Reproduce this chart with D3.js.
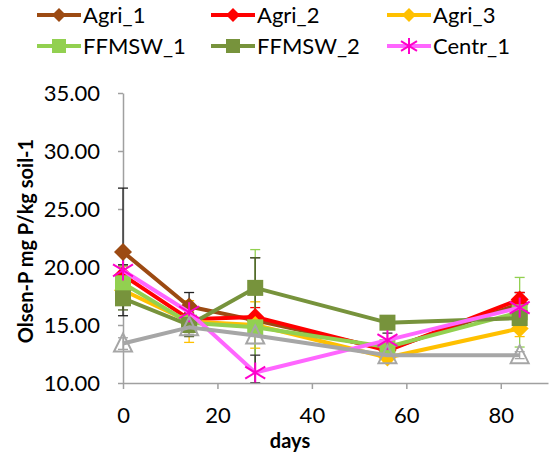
<!DOCTYPE html>
<html>
<head>
<meta charset="utf-8">
<script src="https://cdn.jsdelivr.net/npm/d3@7"></script>
<style>
  body { margin: 0; background: #fff; }
  svg { font-family: Lato, "Open Sans", sans-serif; }
</style>
</head>
<body>
<svg id="chart" width="551" height="464"></svg>
<script>
// sampling days
var days = [0, 14, 28, 56, 84];

// series names + colours
var names = ["Agri_1", "Agri_2", "Agri_3", "FFMSW_1", "FFMSW_2", "Centr_1", "Control"];
var colors = ["#9c4a12", "#ff0000", "#ffc000", "#92d050", "#77933c", "#ff66ff", "#a6a6a6"];
var markers = ["diamond", "diamond", "diamond", "square", "square", "star", "triangle"];

// Olsen-P values
var agri1 = [21.3, 16.6, 15.4, 12.9, 16.8];
var agri2 = [19.3, 15.5, 15.7, 12.8, 17.2];
var agri3 = [18.0, 15.3, 15.0, 12.2, 14.7];
var ffmsw1 = [18.6, 15.2, 14.8, 13.1, 16.1];
var ffmsw2 = [17.3, 15.0, 18.2, 15.2, 15.6];
var centr1 = [19.7, 16.1, 10.9, 13.7, 16.5];
var control = [13.4, 14.8, 14.1, 12.4, 12.4];

// error bar half widths
var err1 = [5.5, 1.2, 5.4, 0.3, 1.0];
var err2 = [0.8, 0.6, 0.8, 0.4, 0.6];
var err3 = [0.6, 1.8, 2.0, 0.4, 0.7];
var errF1 = [1.5, 0.8, 6.7, 0.5, 3.0];
var errF2 = [1.0, 1.0, 2.6, 0.5, 1.0];
var errC = [0.5, 0.5, 1.5, 0.6, 0.5];
var errCtl = [0.5, 0.6, 0.7, 0.3, 0.3];

var series = [agri1, agri2, agri3, ffmsw1, ffmsw2, centr1, control];
var errors = [err1, err2, err3, errF1, errF2, errC, errCtl];
var errColors = ["#222", "#ff0000", "#ffc000", "#92d050", "#4d5e28", "#333", "#a6a6a6"];

var yTicks = [10, 15, 20, 25, 30, 35];
var xTicks = [0, 20, 40, 60, 80];

var svg = d3.select("#chart");

var x = d3.scaleLinear().domain([0, 90]).range([123, 548]);
var y = d3.scaleLinear().domain([10, 35]).range([383, 93]);

// clip error bars to the plot area, like the spreadsheet does
svg.append("clipPath").attr("id", "plotClip")
  .append("rect").attr("x", 100).attr("y", y(35)).attr("width", 451).attr("height", y(10) - y(35));

// axes
svg.append("g")
  .attr("transform", "translate(123,0)")
  .call(d3.axisLeft(y).tickValues(yTicks).tickFormat(d3.format(".2f")).tickSize(5).tickSizeOuter(0).tickPadding(18));
svg.append("g")
  .attr("transform", "translate(0,383)")
  .call(d3.axisBottom(x).tickValues(xTicks).tickSize(6).tickSizeOuter(0).tickPadding(18));

svg.selectAll(".domain, .tick line").attr("stroke", "#a0a0a0").attr("stroke-width", 1.5);
svg.selectAll(".tick text").attr("fill", "#000").style("font-size", "22px").style("font-family", "Lato, sans-serif");

svg.append("text")
  .attr("x", 290).attr("y", 448)
  .attr("text-anchor", "middle")
  .style("font-size", "20px").style("font-weight", "bold")
  .text("days");

svg.append("text")
  .attr("transform", "translate(33,241) rotate(-90)")
  .attr("text-anchor", "middle")
  .style("font-size", "20px").style("font-weight", "bold")
  .text("Olsen-P mg P/kg soil-1");

// marker drawing
function drawMarker(g, type, color, cx, cy, s) {
  if (type === "diamond") {
    g.append("path")
      .attr("d", "M" + cx + "," + (cy - s) + "L" + (cx + s) + "," + cy + "L" + cx + "," + (cy + s) + "L" + (cx - s) + "," + cy + "Z")
      .attr("fill", color);
  } else if (type === "square") {
    g.append("rect").attr("x", cx - s).attr("y", cy - s).attr("width", 2 * s).attr("height", 2 * s).attr("fill", color);
  } else if (type === "star") {
    var r = s + 1;
    [[0, -r, 0, r], [-r, -r * 0.6, r, r * 0.6], [-r, r * 0.6, r, -r * 0.6]].forEach(function(l) {
      g.append("line").attr("x1", cx + l[0]).attr("y1", cy + l[1]).attr("x2", cx + l[2]).attr("y2", cy + l[3])
        .attr("stroke", "#ff00cc").attr("stroke-width", 2);
    });
  } else if (type === "triangle") {
    g.append("path")
      .attr("d", "M" + cx + "," + (cy - s - 1) + "L" + (cx + s) + "," + (cy + s - 1) + "L" + (cx - s) + "," + (cy + s - 1) + "Z")
      .attr("fill", "none").attr("stroke", color).attr("stroke-width", 2);
  }
}

var line = d3.line().x(function(d, i) { return x(days[i]); }).y(function(d) { return y(d); });

// error bars
series.forEach(function(vals, k) {
  var g = svg.append("g").attr("clip-path", "url(#plotClip)");
  vals.forEach(function(v, i) {
    var cx = x(days[i]), e = errors[k][i];
    g.append("line").attr("x1", cx).attr("x2", cx).attr("y1", y(v - e)).attr("y2", y(v + e))
      .attr("stroke", errColors[k]).attr("stroke-width", 1.3);
    [v - e, v + e].forEach(function(t) {
      g.append("line").attr("x1", cx - 5).attr("x2", cx + 5).attr("y1", y(t)).attr("y2", y(t))
        .attr("stroke", errColors[k]).attr("stroke-width", 1.3);
    });
  });
});

// lines + markers
series.forEach(function(vals, k) {
  var g = svg.append("g");
  g.append("path").datum(vals).attr("d", line)
    .attr("fill", "none").attr("stroke", colors[k]).attr("stroke-width", 4).attr("stroke-linejoin", "round");
  vals.forEach(function(v, i) {
    drawMarker(g, markers[k], colors[k], x(days[i]), y(v), markers[k] === "square" ? 8 : 9);
  });
});

// legend (first six series only)
var legX = [37, 211, 387];
var legY = [15, 46];
names.slice(0, 6).forEach(function(n, k) {
  var lx = legX[k % 3], ly = legY[Math.floor(k / 3)];
  var g = svg.append("g");
  g.append("line").attr("x1", lx).attr("x2", lx + 44).attr("y1", ly).attr("y2", ly)
    .attr("stroke", colors[k]).attr("stroke-width", 4);
  drawMarker(g, markers[k], colors[k], lx + 22, ly, 7);
  g.append("text").attr("x", lx + 46).attr("y", ly + 8)
    .style("font-size", "22px").text(n);
});
</script>
</body>
</html>
